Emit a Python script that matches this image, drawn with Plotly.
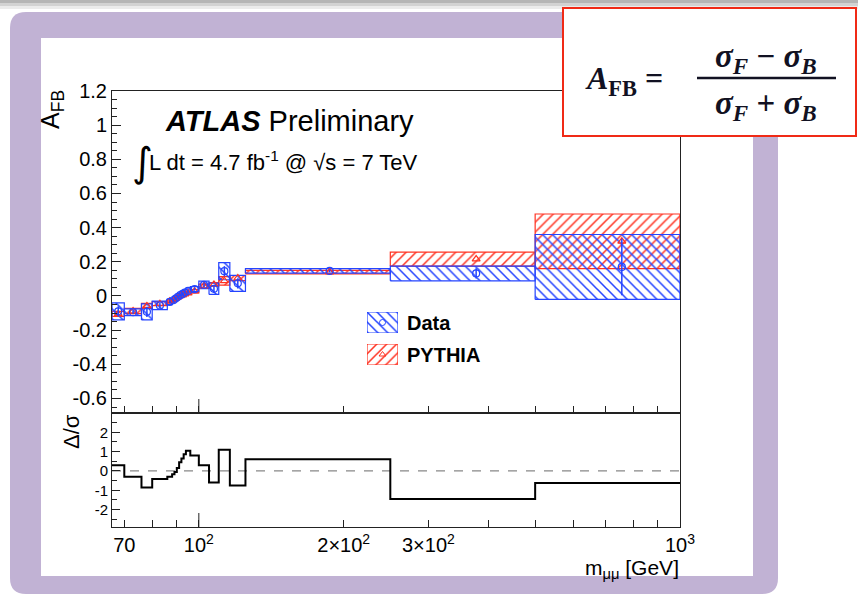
import numpy as np
import plotly.graph_objects as go

# ---------------- data ----------------
edges = [66, 70, 76, 80, 86, 88, 89, 90, 91, 92, 93, 94, 96, 100, 105, 110, 116, 125, 250, 500, 1000]
mass_mean = [68, 73, 78, 83, 87, 88.5, 89.5, 90.5, 91.5, 92.5, 93.5, 95, 98, 102.5, 107.5, 113, 120.5, 187, 377, 757]

data_afb = [-0.09, -0.095, -0.093, -0.055, -0.035, -0.025, -0.015, -0.005, 0.005, 0.012, 0.02, 0.03, 0.04,
            0.065, 0.042, 0.145, 0.074, 0.147, 0.132, 0.17]
data_err = [0.05, 0.02, 0.047, 0.025, 0.015, 0.012, 0.01, 0.01, 0.01, 0.01, 0.01, 0.012, 0.015,
            0.022, 0.033, 0.05, 0.047, 0.013, 0.043, 0.19]
data_stat = [0.03, 0.012, 0.03, 0.015, 0.008, 0.007, 0.006, 0.006, 0.006, 0.006, 0.006, 0.007, 0.009,
             0.014, 0.02, 0.03, 0.03, 0.008, 0.03, 0.165]

pythia_afb = [-0.105, -0.088, -0.058, -0.045, -0.031, -0.023, -0.0145, -0.0065, 0.0005, 0.0055, 0.011, 0.017, 0.028,
              0.058, 0.068, 0.088, 0.105, 0.14, 0.216, 0.32]
pythia_err = [0.015, 0.015, 0.015, 0.012, 0.008, 0.008, 0.008, 0.008, 0.008, 0.008, 0.008, 0.008, 0.01,
              0.012, 0.01, 0.025, 0.015, 0.01, 0.041, 0.16]

ratio = [0.3, -0.3, -0.85, -0.42, -0.3, -0.17, -0.05, 0.15, 0.45, 0.65, 0.87, 1.05, 0.8,
         0.3, -0.6, 1.1, -0.75, 0.6, -1.45, -0.62]

series_names = ["Data", "PYTHIA"]

x_tickvals = [70, 100, 200, 300, 1000]
x_ticktext = ["70", "10<sup>2</sup>", "2×10<sup>2</sup>", "3×10<sup>2</sup>", "10<sup>3</sup>"]
x_minor = [80, 90, 400, 500, 600, 700, 800, 900]
y_tickvals = [-0.6, -0.4, -0.2, 0, 0.2, 0.4, 0.6, 0.8, 1, 1.2]
y_ticktext = ["-0.6", "-0.4", "-0.2", "0", "0.2", "0.4", "0.6", "0.8", "1", "1.2"]
r_tickvals = [-2, -1, 0, 1, 2]
r_ticktext = ["-2", "-1", "0", "1", "2"]

# ---------------- geometry helpers ----------------
FW, FH = 858, 596
L, R, T, B = 112, 680, 91, 527
PW, PH = R - L, B - T


def px(x):
    return (x - L) / PW


def py(y):
    return (B - y) / PH


BLUE = "#2444ff"
RED = "#ff3322"
FONT = "Liberation Sans"

data_pattern = dict(shape="\\", fgcolor=BLUE, bgcolor="rgba(0,0,0,0)", size=7, solidity=0.22, fillmode="replace")
pythia_pattern = dict(shape="/", fgcolor=RED, bgcolor="rgba(0,0,0,0)", size=7, solidity=0.22, fillmode="replace")


def boxes(lo_edges, hi_edges, c, e):
    xs, ys = [], []
    for lo, hi, cc, ee in zip(lo_edges, hi_edges, c, e):
        xs += [lo, hi, hi, lo, lo, None]
        ys += [cc - ee, cc - ee, cc + ee, cc + ee, cc - ee, None]
    return xs, ys


fig = go.Figure()

dx, dy = boxes(edges[:-1], edges[1:], data_afb, data_err)
pxs, pys = boxes(edges[:-1], edges[1:], pythia_afb, pythia_err)

fig.add_trace(go.Scatter(
    x=pxs, y=pys, mode="lines", fill="toself", name=series_names[1], showlegend=False,
    line=dict(color=RED, width=1.2), fillcolor="rgba(0,0,0,0)", fillpattern=pythia_pattern,
    xaxis="x", yaxis="y"))
fig.add_trace(go.Scatter(
    x=dx, y=dy, mode="lines", fill="toself", name=series_names[0], showlegend=False,
    line=dict(color=BLUE, width=1.2), fillcolor="rgba(0,0,0,0)", fillpattern=data_pattern,
    xaxis="x", yaxis="y"))

fig.add_trace(go.Scatter(
    x=mass_mean, y=pythia_afb, mode="markers", showlegend=False,
    marker=dict(symbol="triangle-up-open", size=7, color=RED, line=dict(width=1.2)),
    xaxis="x", yaxis="y"))
fig.add_trace(go.Scatter(
    x=mass_mean, y=data_afb, mode="markers", showlegend=False,
    marker=dict(symbol="circle-open", size=7, color=BLUE, line=dict(width=1.2)),
    error_y=dict(type="data", array=data_stat, color=BLUE, thickness=1.5, width=0),
    xaxis="x", yaxis="y"))

# ratio panel
fig.add_trace(go.Scatter(
    x=[edges[0], edges[-1]], y=[0, 0], mode="lines", showlegend=False,
    line=dict(color="#888888", width=1.3, dash="dash"), xaxis="x2", yaxis="y2"))
fig.add_trace(go.Scatter(
    x=edges, y=ratio + [ratio[-1]], mode="lines", line_shape="hv", showlegend=False,
    line=dict(color="black", width=2), xaxis="x2", yaxis="y2"))

# legend swatches (own small unit axes)
for ax, pat, col, sym in [("3", data_pattern, BLUE, "circle-open"), ("4", pythia_pattern, RED, "triangle-up-open")]:
    fig.add_trace(go.Scatter(
        x=[0, 1, 1, 0, 0], y=[0, 0, 1, 1, 0], mode="lines", fill="toself", showlegend=False,
        line=dict(color=col, width=1.2), fillcolor="rgba(0,0,0,0)", fillpattern=pat,
        xaxis="x" + ax, yaxis="y" + ax, hoverinfo="skip"))
    fig.add_trace(go.Scatter(
        x=[0.5], y=[0.5], mode="markers", showlegend=False,
        marker=dict(symbol=sym, size=6, color=col, line=dict(width=1)),
        xaxis="x" + ax, yaxis="y" + ax, hoverinfo="skip"))

split = py(413)

axis_common = dict(showline=True, linecolor="#222222", linewidth=1, mirror=True,
                   showgrid=False, zeroline=False, automargin=False, ticks="inside",
                   tickcolor="#222222", tickfont=dict(family=FONT, size=20, color="black"))
hidden = dict(visible=False, range=[0, 1], showgrid=False, zeroline=False, fixedrange=True)

fig.update_layout(
    width=FW, height=FH, autosize=False,
    margin=dict(l=L, r=FW - R, t=T, b=FH - B, pad=0),
    paper_bgcolor="white", plot_bgcolor="rgba(0,0,0,0)",
    xaxis=dict(axis_common, type="log", range=[np.log10(66), 3], domain=[0, 1], anchor="y",
               tickvals=x_tickvals + x_minor, ticktext=[""] * (len(x_tickvals) + len(x_minor)),
               ticklen=7, showticklabels=False, matches="x2"),
    xaxis2=dict(axis_common, type="log", range=[np.log10(66), 3], domain=[0, 1], anchor="y2",
                tickvals=x_tickvals, ticktext=x_ticktext, ticklen=7,
                minor=dict(tickvals=x_minor, ticklen=7, ticks="inside", tickcolor="#222222")),
    yaxis=dict(axis_common, range=[-0.685, 1.2], domain=[split, 1], anchor="x",
               tickvals=y_tickvals, ticktext=y_ticktext, ticklen=9,
               minor=dict(dtick=0.05, tick0=0, ticklen=5, ticks="inside", tickcolor="#222222")),
    yaxis2=dict(axis_common, range=[-2.9, 3.0], domain=[0, split], anchor="x2",
                tickvals=r_tickvals, ticktext=r_ticktext, ticklen=8,
                tickfont=dict(family=FONT, size=15, color="black"),
                minor=dict(dtick=0.5, tick0=0, ticklen=5, ticks="inside", tickcolor="#222222")),
    xaxis3=dict(hidden, domain=[px(367), px(398)], anchor="y3"),
    yaxis3=dict(hidden, domain=[py(333), py(312)], anchor="x3"),
    xaxis4=dict(hidden, domain=[px(367), px(398)], anchor="y4"),
    yaxis4=dict(hidden, domain=[py(365), py(344)], anchor="x4"),
    showlegend=False,
)

# longer ticks at 10^2 on both panels
for xr, yr, ln in [("x", "y domain", 14 / (413 - 91)), ("x2", "y2 domain", 14 / (527 - 413))]:
    fig.add_shape(type="line", xref=xr, yref=yr, x0=100, x1=100, y0=0, y1=ln,
                  line=dict(color="#222222", width=1))

# ---------------- slide frame ----------------
def rounded_path(x0, y0, x1, y1, r):
    pts = [
        f"M {px(x0 + r)} {py(y0)}",
        f"L {px(x1 - r)} {py(y0)}",
        f"Q {px(x1)} {py(y0)} {px(x1)} {py(y0 + r)}",
        f"L {px(x1)} {py(y1 - r)}",
        f"Q {px(x1)} {py(y1)} {px(x1 - r)} {py(y1)}",
        f"L {px(x0 + r)} {py(y1)}",
        f"Q {px(x0)} {py(y1)} {px(x0)} {py(y1 - r)}",
        f"L {px(x0)} {py(y0 + r)}",
        f"Q {px(x0)} {py(y0)} {px(x0 + r)} {py(y0)}",
        "Z",
    ]
    return " ".join(pts)


PURPLE = "#c1b2d4"
fig.add_shape(type="path", xref="paper", yref="paper", path=rounded_path(10, 12, 778, 594, 16),
              fillcolor=PURPLE, line=dict(width=0), layer="below")
fig.add_shape(type="rect", xref="paper", yref="paper", x0=px(41), x1=px(753), y0=py(38), y1=py(576),
              fillcolor="white", line=dict(width=0), layer="below")
for y0, y1, col in [(0, 3, "#b5b5b5"), (3, 6, "#d2d2d2"), (6, 9, "#ebebeb")]:
    fig.add_shape(type="rect", xref="paper", yref="paper", x0=px(0), x1=px(858), y0=py(y0), y1=py(y1),
                  fillcolor=col, line=dict(width=0), layer="below")

# formula box
fig.add_shape(type="rect", xref="paper", yref="paper", x0=px(563), x1=px(856), y0=py(8), y1=py(136),
              fillcolor="white", line=dict(color="#f02a16", width=2), layer="above")
fig.add_shape(type="line", xref="paper", yref="paper", x0=px(697), x1=px(836), y0=py(78), y1=py(78),
              line=dict(color="#111122", width=2.5), layer="above")

SERIF = "Liberation Serif"
ann = [
    dict(x=px(583), y=py(80), text="<b><i>A</i></b><sub><b>FB</b></sub> <b>=</b>", xanchor="left", yanchor="middle",
         font=dict(family=SERIF, size=32, color="#111122")),
    dict(x=px(766), y=py(58), text="<b><i>σ<sub>F</sub></i> − <i>σ<sub>B</sub></i></b>", xanchor="center", yanchor="middle",
         font=dict(family=SERIF, size=33, color="#111122")),
    dict(x=px(766), y=py(105), text="<b><i>σ<sub>F</sub></i> + <i>σ<sub>B</sub></i></b>", xanchor="center", yanchor="middle",
         font=dict(family=SERIF, size=33, color="#111122")),
    # plot texts
    dict(x=px(163), y=py(121), text="<b><i>ATLAS</i></b> Preliminary", xanchor="left", yanchor="middle",
         font=dict(family=FONT, size=29, color="black")),
    dict(x=px(130), y=py(162), text="∫", xanchor="left", yanchor="middle",
         font=dict(family="DejaVu Sans", size=40, color="black")),
    dict(x=px(147), y=py(161), text="L dt = 4.7 fb<sup>-1</sup> @ √s = 7 TeV", xanchor="left", yanchor="middle",
         font=dict(family=FONT, size=22, color="black")),
    # legend texts
    dict(x=px(405), y=py(323), text="<b>" + series_names[0] + "</b>", xanchor="left", yanchor="middle",
         font=dict(family=FONT, size=20, color="black")),
    dict(x=px(405), y=py(355), text="<b>" + series_names[1] + "</b>", xanchor="left", yanchor="middle",
         font=dict(family=FONT, size=20, color="black")),
    # axis titles
    dict(x=px(52), y=py(110), text="A<sub>FB</sub>", textangle=-90, xanchor="center", yanchor="middle",
         font=dict(family=FONT, size=25, color="black")),
    dict(x=px(71), y=py(432), text="Δ/σ", textangle=-90, xanchor="center", yanchor="middle",
         font=dict(family=FONT, size=22, color="black")),
    dict(x=px(681), y=py(569), text="m<sub>μμ</sub> [GeV]", xanchor="right", yanchor="middle",
         font=dict(family=FONT, size=21, color="black")),
]
for a in ann:
    a.update(xref="paper", yref="paper", showarrow=False)
    fig.add_annotation(**a)

fig.write_html("out.html")
